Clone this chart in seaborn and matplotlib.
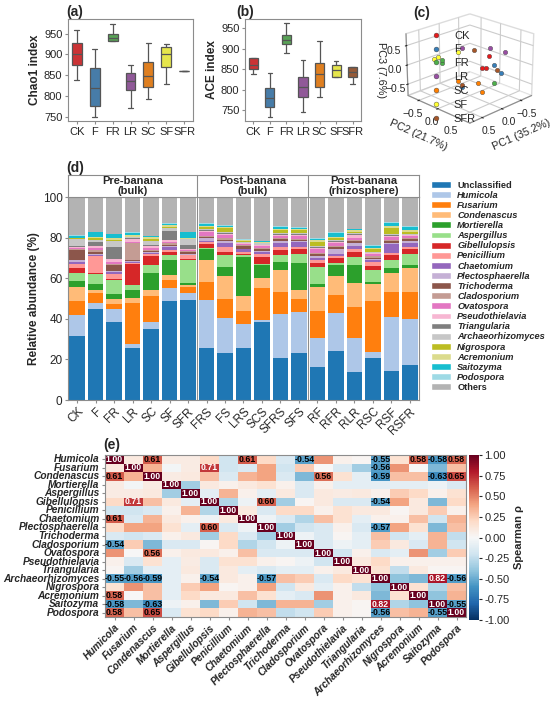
import numpy as np
import pandas as pd
import seaborn as sns
import matplotlib
matplotlib.use('Agg')
import matplotlib.pyplot as plt
from matplotlib.patches import Patch
from matplotlib.lines import Line2D

sns.set_style('ticks')
plt.rcParams['font.family'] = ['Liberation Sans', 'DejaVu Sans']
plt.rcParams['axes.edgecolor'] = '#8c8c8c'
plt.rcParams['axes.linewidth'] = 0.8

# ---- (a)/(b) alpha diversity: min, q1, median, q3, max per treatment
treatments = ['CK', 'F', 'FR', 'LR', 'SC', 'SF', 'SFR']
chao1_stats = [[838, 874, 900, 928, 958],
               [750, 777, 820, 868, 914],
               [933, 933, 940, 949, 972],
               [771, 814, 836, 855, 874],
               [793, 822, 848, 881, 928],
               [830, 870, 900, 918, 924],
               [861, 861, 861, 861, 861]]
ace_stats = [[838, 850, 859, 876, 876],
             [734, 757, 781, 805, 840],
             [889, 911, 921, 933, 962],
             [746, 783, 806, 830, 872],
             [783, 807, 838, 866, 919],
             [830, 830, 848, 860, 871],
             [814, 832, 844, 856, 856]]

# ---- (c) PCoA coordinates (PC1, PC2, PC3) per treatment
pc1 = [-0.30, -0.20, -0.10, -0.40, 0.30, -0.25, 0.40, 0.50, -0.10, -0.50, -0.30, 0.20,
       0.10, 0.40, 0.20, 0.50, 0.60, 0.30, 0.10, -0.30, 0.50]
pc2 = [0.20, 0.10, 0.30, 0.40, 0.10, 0.35, -0.30, -0.20, 0.50, 0.40, 0.20, 0.00,
       0.30, 0.10, 0.50, -0.40, -0.20, 0.00, 0.20, 0.40, 0.30]
pc3 = [0.20, -0.10, 0.00, -0.20, -0.40, 0.05, 0.10, 0.25, -0.30, 0.30, 0.40, 0.50,
       -0.30, -0.20, -0.40, 0.20, 0.35, 0.45, 0.50, -0.10, -0.20]
pc_group = [t for t in treatments for _ in range(3)]

# ---- (d) relative abundance (%)
samples = ['CK', 'F', 'FR', 'LR', 'SC', 'SF', 'SFR', 'FRS', 'FS', 'LRS', 'SCS', 'SFRS',
           'SFS', 'RF', 'RFR', 'RLR', 'RSC', 'RSF', 'RSFR']
group_titles = ['Pre-banana\n(bulk)', 'Post-banana\n(bulk)', 'Post-banana\n(rhizosphere)']
group_sizes = [7, 6, 6]
genera = ['Unclassified', 'Humicola', 'Fusarium', 'Condenascus', 'Mortierella', 'Aspergillus',
          'Gibellulopsis', 'Penicillium', 'Chaetomium', 'Plectosphaerella', 'Trichoderma',
          'Cladosporium', 'Ovatospora', 'Pseudothielavia', 'Triangularia', 'Archaeorhizomyces',
          'Nigrospora', 'Acremonium', 'Saitozyma', 'Podospora', 'Others']
unclassified = [31.5, 45.0, 38.2, 25.4, 34.9, 48.9, 49.2, 25.4, 23.0, 25.7, 38.2, 20.8, 23.0, 16.4, 24.3, 13.9, 20.5, 14.4, 17.2]
humicola = [10.3, 3.0, 6.6, 2.1, 3.3, 6.3, 3.3, 24.1, 17.5, 11.5, 1.1, 21.8, 20.4, 14.3, 18.7, 16.8, 3.3, 26.6, 22.5]
fusarium = [6.9, 4.5, 2.7, 20.5, 13.0, 4.1, 3.2, 8.4, 9.5, 6.6, 16.1, 10.4, 6.3, 13.2, 8.6, 14.9, 24.9, 12.3, 13.6]
condenascus = [7.0, 1.5, 2.2, 2.3, 2.8, 2.2, 0.9, 11.0, 11.0, 7.3, 4.8, 10.9, 4.7, 11.8, 9.4, 11.8, 8.2, 9.3, 11.9]
mortierella = [3.0, 3.0, 2.3, 3.7, 8.6, 7.4, 0.8, 5.7, 4.6, 19.4, 6.2, 4.1, 13.1, 1.5, 5.4, 9.3, 1.3, 2.2, 1.2]
aspergillus = [3.9, 5.3, 7.3, 2.6, 3.8, 2.4, 11.8, 0.5, 5.7, 0.8, 0.8, 3.3, 4.6, 8.4, 1.0, 3.8, 5.7, 4.1, 5.7]
gibellulopsis = [2.5, 0.3, 0.3, 10.3, 4.4, 1.7, 0.5, 1.9, 1.7, 0.8, 3.3, 2.5, 2.5, 2.0, 2.5, 2.5, 2.0, 2.4, 2.5]
penicillium = [1.8, 8.5, 2.7, 0.8, 1.0, 1.0, 1.5, 0.8, 2.4, 0.8, 1.6, 1.6, 0.8, 1.2, 0.8, 1.3, 2.1, 1.0, 0.8]
chaetomium = [1.0, 0.5, 0.8, 0.5, 0.5, 1.3, 0.4, 0.6, 2.0, 1.3, 0.8, 2.0, 2.3, 1.3, 1.3, 1.6, 0.8, 4.7, 2.1]
plectosphaerella = [1.0, 0.5, 0.4, 0.3, 0.5, 0.5, 0.4, 1.4, 0.8, 0.4, 0.5, 1.0, 0.5, 0.8, 2.5, 1.2, 0.5, 0.5, 0.6]
trichoderma = [5.2, 1.0, 2.8, 0.3, 0.8, 0.8, 0.8, 0.5, 0.8, 1.3, 0.8, 0.8, 0.8, 0.8, 0.8, 1.0, 0.8, 0.8, 1.0]
cladosporium = [0.5, 0.7, 0.5, 8.7, 0.5, 0.5, 0.8, 0.5, 0.6, 0.4, 0.5, 0.5, 0.5, 0.6, 0.5, 0.5, 0.8, 0.5, 0.5]
ovatospora = [0.3, 1.2, 1.1, 0.5, 0.8, 0.8, 0.5, 2.0, 1.5, 0.4, 1.0, 1.0, 1.5, 2.0, 1.5, 1.3, 0.8, 1.6, 1.0]
pseudothielavia = [0.5, 1.0, 1.8, 1.5, 1.1, 1.0, 0.5, 0.6, 0.8, 0.5, 0.5, 0.8, 0.5, 0.6, 0.6, 1.6, 0.5, 0.6, 0.5]
triangularia = [0.3, 1.6, 5.7, 0.2, 0.3, 4.2, 2.0, 0.3, 0.3, 0.2, 0.2, 0.3, 0.2, 0.3, 0.3, 0.2, 0.3, 0.3, 0.3]
archaeorhizomyces = [3.5, 1.3, 3.0, 0.5, 2.1, 1.5, 2.5, 0.4, 0.6, 0.5, 0.8, 0.5, 0.5, 0.5, 0.5, 0.5, 0.5, 0.5, 0.5]
nigrospora = [0.4, 1.0, 0.6, 0.3, 1.1, 0.8, 0.3, 1.2, 2.0, 0.3, 0.3, 1.6, 1.5, 2.0, 1.0, 0.5, 1.3, 3.0, 1.0]
acremonium = [0.4, 0.6, 0.6, 0.8, 1.0, 1.0, 0.5, 0.6, 0.6, 0.5, 0.3, 0.5, 0.5, 1.0, 0.8, 0.8, 0.8, 1.0, 0.8]
saitozyma = [0.8, 2.2, 2.0, 1.2, 0.3, 0.5, 2.8, 0.8, 0.5, 0.3, 0.3, 0.8, 0.6, 0.6, 2.0, 0.5, 1.0, 1.4, 1.6]
podospora = [0.3, 0.3, 0.3, 0.3, 0.2, 0.3, 0.2, 0.5, 0.5, 0.2, 0.3, 0.3, 0.3, 0.3, 0.3, 0.3, 0.2, 0.4, 0.4]
others = [18.9, 17.0, 18.1, 17.2, 19.0, 12.8, 17.1, 12.8, 13.6, 20.8, 21.6, 14.5, 14.9, 20.4, 17.2, 15.7, 23.7, 12.4, 14.3]
abundance = [unclassified, humicola, fusarium, condenascus, mortierella, aspergillus, gibellulopsis,
             penicillium, chaetomium, plectosphaerella, trichoderma, cladosporium, ovatospora,
             pseudothielavia, triangularia, archaeorhizomyces, nigrospora, acremonium, saitozyma,
             podospora, others]

# ---- (e) Spearman rho, lower triangle rows
heat_genera = genera[1:-1]
rho_rows = [
    [0.10],
    [0.61, 0.35],
    [0.08, -0.03, 0.08],
    [0.08, 0.08, 0.10, -0.35],
    [0.20, 0.71, 0.30, 0.10, -0.10],
    [-0.20, -0.20, -0.15, 0.05, 0.35, -0.30],
    [0.61, -0.15, 0.35, 0.10, 0.05, -0.05, 0.10],
    [0.20, 0.40, 0.40, 0.15, -0.10, 0.60, -0.15, -0.05],
    [-0.15, -0.20, -0.15, 0.05, 0.10, -0.35, 0.20, -0.15, -0.35],
    [-0.54, 0.25, -0.45, -0.15, -0.15, 0.02, 0.20, -0.30, -0.20, -0.05],
    [0.45, 0.00, 0.56, 0.05, 0.10, 0.10, 0.05, 0.30, -0.15, -0.15, -0.15],
    [0.05, -0.15, 0.15, -0.10, 0.08, -0.15, 0.15, 0.15, 0.05, 0.02, -0.05, -0.20],
    [0.02, -0.35, -0.10, -0.10, 0.10, -0.15, 0.10, -0.10, -0.15, -0.10, -0.10, 0.05, 0.10],
    [-0.55, -0.56, -0.59, -0.10, 0.05, -0.54, 0.10, 0.05, -0.57, 0.30, 0.25, -0.15, 0.20, 0.15],
    [0.15, 0.45, 0.30, -0.10, 0.25, 0.40, 0.02, 0.05, 0.40, -0.20, 0.10, -0.10, 0.05, -0.25, -0.40],
    [0.58, 0.00, 0.30, -0.10, 0.20, 0.10, 0.10, 0.30, 0.15, -0.10, -0.15, 0.45, 0.05, 0.10, -0.45, 0.15],
    [-0.58, -0.45, -0.63, -0.05, 0.05, -0.45, 0.25, -0.20, -0.45, 0.35, 0.35, -0.35, 0.05, 0.02, 0.82, -0.30, -0.40],
    [0.58, 0.30, 0.65, -0.15, 0.15, 0.20, 0.05, 0.35, 0.30, -0.25, -0.20, 0.25, 0.05, 0.02, -0.56, 0.30, 0.35, -0.55],
]

W, H = 550, 705


def box(x0, y0, x1, y1):
    return [x0 / W, 1 - y1 / H, (x1 - x0) / W, (y1 - y0) / H]


fig = plt.figure(figsize=(W / 100, H / 100), dpi=100)
set1 = sns.color_palette('Set1', 7)

# ---- (a) and (b)
for stats, ylab, pos, ylim, tag, tagx in [(chao1_stats, 'Chao1 index', box(68, 19, 193, 121), (740, 985), '(a)', 66),
                                          (ace_stats, 'ACE index', box(245, 19, 361, 121), (724, 972), '(b)', 236)]:
    ax = fig.add_axes(pos)
    df = pd.DataFrame([(t, v) for t, s in zip(treatments, stats) for v in s], columns=['trt', 'val'])
    sns.boxplot(data=df, x='trt', y='val', hue='trt', palette=set1, width=0.55, linewidth=0.9,
                linecolor='#555555', whis=(0, 100), legend=False, ax=ax)
    ax.set_ylim(*ylim)
    ax.set_yticks([750, 800, 850, 900, 950])
    ax.set_xlabel('')
    ax.set_ylabel(ylab, fontsize=8.5, fontweight='bold', labelpad=2)
    ax.tick_params(labelsize=8, length=2.5, pad=1.5, color='#8c8c8c')
    for sp in ax.spines.values():
        sp.set_visible(True)
    fig.text(tagx / W, 1 - 12 / H, tag, fontsize=10, fontweight='bold', va='center')

# ---- (c) 3D PCoA
ax3 = fig.add_axes(box(390, -2, 546, 136), projection='3d')
for t, c in zip(treatments, set1):
    idx = [i for i, g in enumerate(pc_group) if g == t]
    ax3.scatter([pc1[i] for i in idx], [pc2[i] for i in idx], [pc3[i] for i in idx],
                color=c, s=10, edgecolor='#444444', linewidth=0.3, depthshade=False)
ax3.view_init(elev=22, azim=45)
ax3.set_xlim(-0.8, 0.8)
ax3.set_ylim(-0.8, 0.8)
ax3.set_zlim(-0.8, 0.8)
for a in (ax3.xaxis, ax3.yaxis, ax3.zaxis):
    a.set_ticks([-0.5, 0.0, 0.5])
    a.pane.set_facecolor('white')
    a.pane.set_edgecolor('#bbbbbb')
ax3.tick_params(labelsize=7.5, pad=-3)
ax3.set_xlabel('PC1 (35.2%)', fontsize=7.8, labelpad=-6)
ax3.set_ylabel('PC2 (21.7%)', fontsize=7.8, labelpad=-6)
ax3.set_zlabel('')
fig.text(381 / W, 1 - 70 / H, 'PC3 (7.6%)', fontsize=7.8, rotation=-90, ha='center', va='center')
fig.text(413 / W, 1 - 13 / H, '(c)', fontsize=10, fontweight='bold', va='center')
fig.legend(handles=[Line2D([], [], marker='o', ls='', color=c, markersize=3.5, markeredgecolor='#444444',
                           markeredgewidth=0.3, label=t) for t, c in zip(treatments, set1)],
           loc='upper left', bbox_to_anchor=(425 / W, 1 - 25 / H), frameon=False, fontsize=8,
           handletextpad=1.1, labelspacing=0.35, borderpad=0, handlelength=1)

# ---- (d) stacked relative abundance
colors = list(sns.color_palette('tab20', 20)) + ['#b3b3b3']
abund = pd.DataFrame(dict(zip(genera, abundance)), index=samples)
abund.index.name = 'sample'
long = abund.reset_index().melt(id_vars='sample', var_name='genus', value_name='pct')
long['sample'] = pd.Categorical(long['sample'], categories=samples, ordered=True)
axd = fig.add_axes(box(68, 197, 419, 400))
sns.histplot(data=long, x='sample', weights='pct', hue='genus', hue_order=genera[::-1],
             multiple='stack', discrete=True, shrink=0.84, palette=dict(zip(genera, colors)),
             linewidth=0, alpha=1, legend=False, ax=axd)
axd.set_xlim(-0.5, len(samples) - 0.5)
axd.set_ylim(0, 100)
axd.set_xticks(range(len(samples)))
axd.set_xticklabels(samples, rotation=45, ha='right', rotation_mode='anchor')
axd.set_xlabel('')
axd.set_ylabel('Relative abundance (%)', fontsize=8.5, fontweight='bold', labelpad=2)
axd.tick_params(labelsize=8.5, length=2.5, pad=1.5, color='#8c8c8c')
bounds = np.cumsum(group_sizes)[:-1] - 0.5
for b in bounds:
    axd.axvline(b, color='#8c8c8c', lw=0.8)
for sp in axd.spines.values():
    sp.set_visible(True)

axs = fig.add_axes(box(68, 175, 419, 197))
axs.set_xlim(-0.5, len(samples) - 0.5)
axs.set_ylim(0, 1)
axs.set_xticks([])
axs.set_yticks([])
for b in bounds:
    axs.axvline(b, color='#8c8c8c', lw=0.8)
starts = np.concatenate([[0], np.cumsum(group_sizes)[:-1]])
for s, n, title in zip(starts, group_sizes, group_titles):
    axs.text(s + (n - 1) / 2, 0.5, title, ha='center', va='center', fontsize=8, fontweight='bold',
             linespacing=1.0)
fig.text(66 / W, 1 - 168 / H, '(d)', fontsize=10, fontweight='bold', va='center')

leg = fig.legend(handles=[Patch(facecolor=c, label=g) for g, c in zip(genera, colors)],
                 loc='upper left', bbox_to_anchor=(426 / W, 1 - 176 / H), frameon=False, fontsize=6.7,
                 handlelength=2.15, handleheight=0.75, handletextpad=0.7, labelspacing=0.12,
                 borderpad=0)
for txt in leg.get_texts():
    txt.set_fontweight('bold')
    if txt.get_text() not in ('Unclassified', 'Others'):
        txt.set_fontstyle('italic')

# ---- (e) Spearman heatmap
n = len(heat_genera)
rho = np.eye(n)
for i, row in enumerate(rho_rows, start=1):
    rho[i, :i] = row
    rho[:i, i] = row
annot = np.array([[f'{v:.2f}' if abs(v) >= 0.54 else '' for v in r] for r in rho])
axe = fig.add_axes(box(105, 455, 466, 617))
cax = fig.add_axes(box(469, 455, 479, 620))
sns.heatmap(rho, ax=axe, cbar_ax=cax, cmap='RdBu_r', vmin=-1, vmax=1, annot=annot, fmt='',
            annot_kws=dict(size=6.3, fontweight='bold'), xticklabels=heat_genera,
            yticklabels=heat_genera, cbar_kws=dict(ticks=np.arange(-1, 1.01, 0.25)))
for t in axe.texts:
    if t.get_text():
        t.set_color('white' if abs(float(t.get_text())) >= 0.7 else 'black')
axe.set_xticklabels(heat_genera, rotation=45, ha='right', rotation_mode='anchor',
                    fontsize=7.3, fontweight='bold', fontstyle='italic')
axe.set_yticklabels(heat_genera, rotation=0, fontsize=7.3, fontweight='bold', fontstyle='italic')
axe.tick_params(length=2.5, pad=1.5, color='#8c8c8c')
for sp in axe.spines.values():
    sp.set_visible(True)
    sp.set_color('#8c8c8c')
cax.tick_params(labelsize=8, length=2.5, pad=1.5)
cax.yaxis.set_major_formatter(matplotlib.ticker.FormatStrFormatter('%.2f'))
cax.set_ylabel('Spearman ρ', fontsize=8, fontweight='bold', labelpad=3)
fig.text(103 / W, 1 - 445 / H, '(e)', fontsize=10, fontweight='bold', va='center')

fig.savefig('out.png', dpi=100)
